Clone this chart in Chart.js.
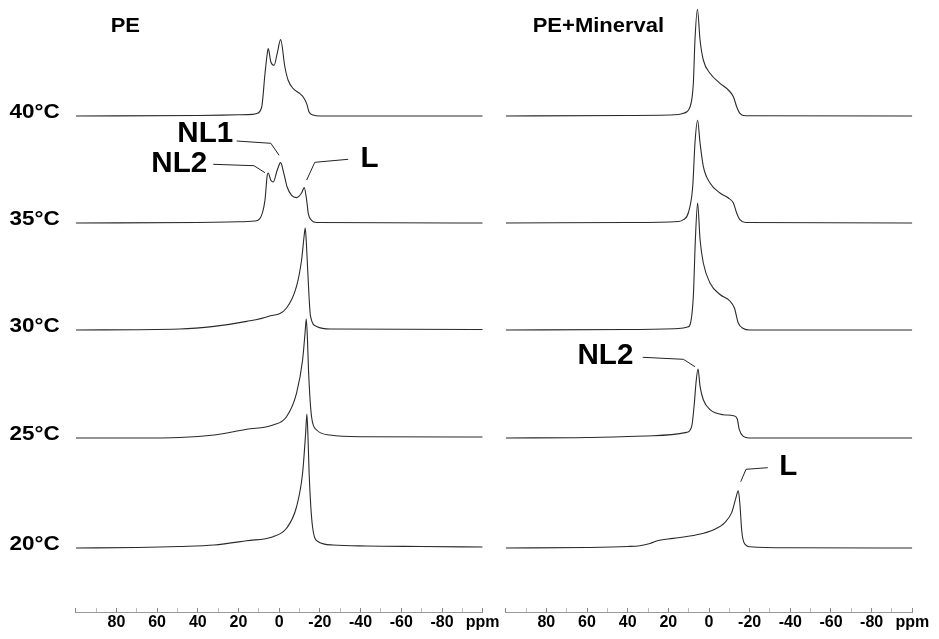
<!DOCTYPE html>
<html>
<head>
<meta charset="utf-8">
<script src="https://cdn.jsdelivr.net/npm/chart.js@4"></script>
<style>
  html, body { margin: 0; padding: 0; background: #fff; }
  #wrap { position: relative; width: 939px; height: 639px; }
  #wrap canvas { position: absolute; left: 0; top: 0; }
</style>
</head>
<body>
<div id="wrap">
  <canvas id="left" width="939" height="639"></canvas>
  <canvas id="right" width="939" height="639"></canvas>
</div>
<script>
// stacked spectra, bottom to top
const temps = ["20°C", "25°C", "30°C", "35°C", "40°C"];
const offsets = [64, 174, 282, 389, 496];
const tickLabels = [80, 60, 40, 20, 0, -20, -40, -60, -80];
const unit = "ppm";

// [ppm, intensity]
const pe20 = [[100,0],[70,0.5],[49,1.5],[32,3],[16,7.3],[3,11.3],[-3.6,19.7],[-8.5,41],[-11.5,75],[-13,115],[-13.6,134],[-14.2,108],[-14.7,75],[-16.4,21],[-19.2,6.3],[-26.5,3],[-43,2],[-70,1.5],[-100,1]];
const pe25 = [[100,0],[70,0],[49,0.5],[32,3],[16,8.7],[3,13],[-3.6,21.3],[-8.5,44.7],[-11.5,78],[-12.7,105],[-13.3,119],[-13.9,98],[-14.4,68],[-15.9,21.3],[-18.4,8],[-24.9,3],[-41,1.3],[-100,1]];
const pe30 = [[100,0],[49,1],[32,3.6],[16,8.6],[5.4,13.6],[-3.6,22],[-8.5,43.6],[-11,70],[-12.3,95],[-12.8,102],[-13.4,85],[-14,60],[-15.4,13.6],[-18.4,3.6],[-25,1],[-100,0.5]];
const pe35 = [[100,0],[40,0.5],[20,1.2],[12,2],[9.5,4.4],[7,22.7],[5.9,47.7],[5.4,50],[4.1,42.7],[2.9,41],[1,52.7],[-0.7,60.4],[-2.3,49.4],[-3.9,36],[-6.1,27.7],[-8.5,25.4],[-11,30],[-12.3,35.4],[-13.5,22.7],[-14.3,9.4],[-15.9,2.7],[-18.4,0.5],[-100,0]];
const pe40 = [[100,0],[40,0.5],[20,1.2],[13,1.6],[11.1,2.4],[8.6,9],[7,42],[5.9,62],[5.4,67.4],[4.1,54],[2.5,50.7],[1,62.4],[-0.7,76.4],[-2.8,49],[-4.4,35.7],[-6.9,27.4],[-10.2,22.4],[-11.8,19],[-13.5,12.4],[-14.7,4],[-16.7,1],[-20,0],[-100,0]];

const pm20 = [[100,0],[60,0.5],[40,1.5],[34,2.3],[29,4.5],[24.9,7.5],[17.6,9.6],[6,13.3],[-2.1,18],[-7.9,25.6],[-11.2,35.6],[-13.3,50.6],[-14.4,57.3],[-15.2,44],[-16.1,17.3],[-17.2,5.6],[-20.2,1.3],[-40,0.3],[-100,0]];
const pm25 = [[100,0],[60,0.5],[27.4,2.3],[11,5.6],[8.5,11.6],[7.2,35],[6.4,55],[5.4,69],[4.4,51.6],[2.8,38.3],[-0.5,28.3],[-7,23.3],[-12,22.3],[-13.9,19],[-14.9,8.3],[-16.9,1.6],[-19.7,0],[-100,0]];
const pm30 = [[100,0],[40,0.5],[15,1.5],[10.5,3],[9.3,5.5],[7.7,34],[6.7,90.5],[5.6,127],[4.4,90.5],[2.8,67],[-0.5,47],[-5.4,35.5],[-10.3,29],[-12.5,22],[-14.4,7],[-16.9,1.5],[-20,0],[-100,0]];
const pm35 = [[100,0],[40,0.5],[15,1.5],[12.6,3.3],[10.2,10],[8,36.7],[6.9,80],[5.6,102.7],[4.4,80],[2.8,56.7],[-0.5,40],[-5.4,30],[-9.5,25],[-12,20],[-13.6,10],[-15.2,3.3],[-18,0.5],[-100,0]];
const pm40 = [[100,0],[40,0.5],[15,1.5],[12.6,2.7],[9.3,9.3],[7.7,32.7],[6.9,76],[5.7,106.7],[4.4,76],[2.8,56],[-0.5,42.7],[-5.4,32.7],[-9.5,26],[-12,19.3],[-13.6,9.3],[-15.2,2.7],[-18,0.3],[-100,0]];

// peak labels with leader lines, in ppm / intensity units
const peNotes = [
  { text: "NL1", at: [22.6, 478], align: "right", line: [[20.9,471],[4.1,468.7],[0.05,456.7]] },
  { text: "NL2", at: [35.4, 448], align: "right", line: [[32.4,447.7],[12.4,446.3],[7.0,439.3]] },
  { text: "L", at: [-40, 453], align: "left", line: [[-33.9,452.7],[-17.5,449.7],[-13.5,432]] }
];
const pmNotes = [
  { text: "NL2", at: [37.2, 256.5], align: "right", line: [[32.6,254.7],[12.6,252.7],[6.9,245.3]] },
  { text: "L", at: [-34.6, 145], align: "left", line: [[-28.9,144.3],[-18.2,142.7],[-15.6,130.3]] }
];

const FONT = '"Liberation Sans", Arial, sans-serif';

function drawText(ctx, str, px, py, size, align, stretch) {
  ctx.save();
  ctx.font = `bold ${size}px ${FONT}`;
  ctx.fillStyle = "#000";
  ctx.textBaseline = "middle";
  ctx.textAlign = align;
  ctx.translate(px, py);
  ctx.scale(stretch, 1);
  ctx.fillText(str, 0, 0);
  ctx.restore();
}

const overlay = {
  id: "overlay",
  afterDatasetsDraw(chart, args, opts) {
    const { ctx, chartArea } = chart;
    const x = chart.scales.x, y = chart.scales.y;
    drawText(ctx, opts.title, chartArea.left + opts.titleDx, 26, 20, "left", 1.1);
    if (opts.temps) {
      offsets.forEach((o, i) => {
        drawText(ctx, temps[i], chartArea.left - 16, y.getPixelForValue(o) - 3.5, 21, "right", 1.07);
      });
    }
    ctx.save();
    ctx.strokeStyle = "#222";
    ctx.lineWidth = 1;
    opts.notes.forEach(n => {
      ctx.beginPath();
      n.line.forEach(([p, v], k) => {
        const px = x.getPixelForValue(p), py = y.getPixelForValue(v);
        if (k === 0) ctx.moveTo(px, py); else ctx.lineTo(px, py);
      });
      ctx.stroke();
      drawText(ctx, n.text, x.getPixelForValue(n.at[0]), y.getPixelForValue(n.at[1]), 29, n.align, 1.02);
    });
    ctx.restore();
  }
};

function makeChart(id, series, padLeft, padRight, title, titleDx, showTemps, notes) {
  return new Chart(document.getElementById(id), {
    type: "line",
    data: {
      datasets: series.map((pts, i) => ({
        data: pts.map(([p, v]) => ({ x: p, y: v + offsets[i] })),
        borderColor: "#2a2a2a",
        borderWidth: 1.1,
        pointRadius: 0,
        cubicInterpolationMode: "monotone",
        fill: false
      }))
    },
    options: {
      responsive: false,
      animation: false,
      layout: { padding: { left: padLeft, right: padRight, top: 0, bottom: 0 } },
      plugins: {
        legend: { display: false },
        tooltip: { enabled: false },
        overlay: { title, titleDx, temps: showTemps, notes }
      },
      scales: {
        x: {
          type: "linear",
          min: -100,
          max: 100,
          reverse: true,
          afterFit: s => { s.height = 27; },
          grid: {
            drawOnChartArea: false,
            tickLength: -4,
            lineWidth: 1,
            tickColor: c => (c.tick && c.tick.value % 20 === 0) ? "#888" : "#bbb"
          },
          border: { color: "#999", width: 1 },
          ticks: {
            stepSize: 10,
            autoSkip: false,
            maxRotation: 0,
            padding: 5,
            color: "#000",
            font: { family: FONT, size: 16, weight: "bold" },
            callback: v => v === -100 ? unit : (tickLabels.includes(v) ? String(v) : "")
          }
        },
        y: { display: false, min: 0, max: 612 }
      }
    },
    plugins: [overlay]
  });
}

makeChart("left", [pe20, pe25, pe30, pe35, pe40], 75.7, 939 - 482.7, "PE", 35, true, peNotes);
makeChart("right", [pm20, pm25, pm30, pm35, pm40], 505.7, 939 - 912.3, "PE+Minerval", 27, false, pmNotes);
</script>
</body>
</html>
